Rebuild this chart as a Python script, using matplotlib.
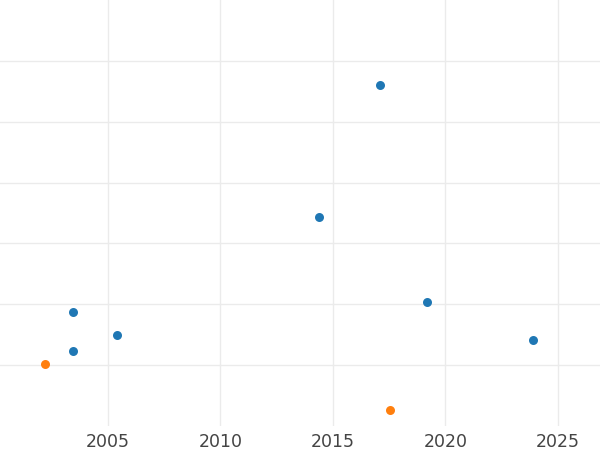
import matplotlib
matplotlib.use("Agg")
import matplotlib.pyplot as plt

blue_x = [2003.44, 2003.44, 2005.4, 2014.38, 2017.09, 2019.18, 2023.89]
blue_y = [1.87, 1.23, 1.49, 3.43, 5.60, 2.03, 1.41]
orange_x = [2002.2, 2017.53]
orange_y = [1.02, 0.26]
xticks = [2005, 2010, 2015, 2020, 2025]
yticks = [1, 2, 3, 4, 5, 6]

fig = plt.figure(figsize=(6, 4.5), dpi=100)
ax = fig.add_axes([0, 1 - 426/450, 1, 426/450])
ax.scatter(blue_x, blue_y, s=42, color="#1f77b4", zorder=3, linewidths=0)
ax.scatter(orange_x, orange_y, s=42, color="#ff7f0e", zorder=3, linewidths=0)

ax.set_xlim(2000.2, 2026.87)
ax.set_ylim(0, 7)
ax.set_xticks(xticks)
ax.set_xticklabels([str(t) for t in xticks])
ax.set_yticks(yticks)
ax.set_yticklabels([])
ax.tick_params(length=0, labelsize=12.5, labelcolor="#444444", pad=5)
ax.grid(True, color="#ebebeb", linewidth=1)
ax.set_axisbelow(True)
for s in ax.spines.values():
    s.set_visible(False)

fig.savefig("out.png", dpi=100)
